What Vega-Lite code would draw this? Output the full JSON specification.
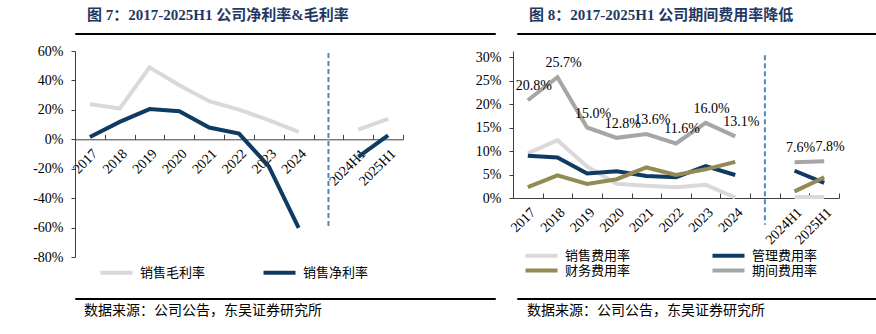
{
  "$schema": "https://vega.github.io/schema/vega-lite/v6.json",
  "padding": {"left": 13, "top": 7, "right": 0, "bottom": 0},
  "background": "white",
  "config": {
    "font": "Liberation Serif",
    "view": {"stroke": null},
    "axis": {"labelFont": "Liberation Serif", "labelFontSize": 14, "labelColor": "#000", "domainColor": "#404040", "tickColor": "#404040", "grid": false, "title": null, "labelOverlap": false},
    "legend": {"layout": {"bottom": {"anchor": "middle"}}, "padding": 0}
  },
  "datasets": {
    "margin": [
      {"cat": "2017", "series": "销售毛利率", "value": 0.239, "seg": "年度"},
      {"cat": "2018", "series": "销售毛利率", "value": 0.209, "seg": "年度"},
      {"cat": "2019", "series": "销售毛利率", "value": 0.489, "seg": "年度"},
      {"cat": "2020", "series": "销售毛利率", "value": 0.368, "seg": "年度"},
      {"cat": "2021", "series": "销售毛利率", "value": 0.259, "seg": "年度"},
      {"cat": "2022", "series": "销售毛利率", "value": 0.202, "seg": "年度"},
      {"cat": "2023", "series": "销售毛利率", "value": 0.130, "seg": "年度"},
      {"cat": "2024", "series": "销售毛利率", "value": 0.050, "seg": "年度"},
      {"cat": "2024H1", "series": "销售毛利率", "value": 0.066, "seg": "半年"},
      {"cat": "2025H1", "series": "销售毛利率", "value": 0.139, "seg": "半年"},
      {"cat": "2017", "series": "销售净利率", "value": 0.016, "seg": "年度"},
      {"cat": "2018", "series": "销售净利率", "value": 0.118, "seg": "年度"},
      {"cat": "2019", "series": "销售净利率", "value": 0.205, "seg": "年度"},
      {"cat": "2020", "series": "销售净利率", "value": 0.191, "seg": "年度"},
      {"cat": "2021", "series": "销售净利率", "value": 0.080, "seg": "年度"},
      {"cat": "2022", "series": "销售净利率", "value": 0.039, "seg": "年度"},
      {"cat": "2023", "series": "销售净利率", "value": -0.184, "seg": "年度"},
      {"cat": "2024", "series": "销售净利率", "value": -0.602, "seg": "年度"},
      {"cat": "2024H1", "series": "销售净利率", "value": -0.120, "seg": "半年"},
      {"cat": "2025H1", "series": "销售净利率", "value": 0.027, "seg": "半年"}
    ],
    "fee": [
      {"cat": "2017", "series": "销售费用率", "value": 0.095, "seg": "年度"},
      {"cat": "2018", "series": "销售费用率", "value": 0.123, "seg": "年度"},
      {"cat": "2019", "series": "销售费用率", "value": 0.067, "seg": "年度"},
      {"cat": "2020", "series": "销售费用率", "value": 0.030, "seg": "年度"},
      {"cat": "2021", "series": "销售费用率", "value": 0.026, "seg": "年度"},
      {"cat": "2022", "series": "销售费用率", "value": 0.023, "seg": "年度"},
      {"cat": "2023", "series": "销售费用率", "value": 0.028, "seg": "年度"},
      {"cat": "2024", "series": "销售费用率", "value": 0.001, "seg": "年度"},
      {"cat": "2024H1", "series": "销售费用率", "value": 0.002, "seg": "半年"},
      {"cat": "2025H1", "series": "销售费用率", "value": 0.002, "seg": "半年"},
      {"cat": "2017", "series": "管理费用率", "value": 0.090, "seg": "年度"},
      {"cat": "2018", "series": "管理费用率", "value": 0.086, "seg": "年度"},
      {"cat": "2019", "series": "管理费用率", "value": 0.052, "seg": "年度"},
      {"cat": "2020", "series": "管理费用率", "value": 0.057, "seg": "年度"},
      {"cat": "2021", "series": "管理费用率", "value": 0.047, "seg": "年度"},
      {"cat": "2022", "series": "管理费用率", "value": 0.044, "seg": "年度"},
      {"cat": "2023", "series": "管理费用率", "value": 0.068, "seg": "年度"},
      {"cat": "2024", "series": "管理费用率", "value": 0.049, "seg": "年度"},
      {"cat": "2024H1", "series": "管理费用率", "value": 0.058, "seg": "半年"},
      {"cat": "2025H1", "series": "管理费用率", "value": 0.032, "seg": "半年"},
      {"cat": "2017", "series": "财务费用率", "value": 0.023, "seg": "年度"},
      {"cat": "2018", "series": "财务费用率", "value": 0.048, "seg": "年度"},
      {"cat": "2019", "series": "财务费用率", "value": 0.030, "seg": "年度"},
      {"cat": "2020", "series": "财务费用率", "value": 0.040, "seg": "年度"},
      {"cat": "2021", "series": "财务费用率", "value": 0.065, "seg": "年度"},
      {"cat": "2022", "series": "财务费用率", "value": 0.049, "seg": "年度"},
      {"cat": "2023", "series": "财务费用率", "value": 0.061, "seg": "年度"},
      {"cat": "2024", "series": "财务费用率", "value": 0.077, "seg": "年度"},
      {"cat": "2024H1", "series": "财务费用率", "value": 0.014, "seg": "半年"},
      {"cat": "2025H1", "series": "财务费用率", "value": 0.044, "seg": "半年"},
      {"cat": "2017", "series": "期间费用率", "value": 0.208, "seg": "年度"},
      {"cat": "2018", "series": "期间费用率", "value": 0.257, "seg": "年度"},
      {"cat": "2019", "series": "期间费用率", "value": 0.150, "seg": "年度"},
      {"cat": "2020", "series": "期间费用率", "value": 0.128, "seg": "年度"},
      {"cat": "2021", "series": "期间费用率", "value": 0.136, "seg": "年度"},
      {"cat": "2022", "series": "期间费用率", "value": 0.116, "seg": "年度"},
      {"cat": "2023", "series": "期间费用率", "value": 0.160, "seg": "年度"},
      {"cat": "2024", "series": "期间费用率", "value": 0.131, "seg": "年度"},
      {"cat": "2024H1", "series": "期间费用率", "value": 0.076, "seg": "半年"},
      {"cat": "2025H1", "series": "期间费用率", "value": 0.078, "seg": "半年"}
    ]
  },
  "spacing": 7,
  "vconcat": [
    {
      "spacing": 20,
      "hconcat": [
        {
          "width": 420, "height": 1,
          "view": {"stroke": "#000", "strokeWidth": 1},
          "title": {"text": "图 7：2017-2025H1 公司净利率&毛利率", "anchor": "start", "frame": "group", "dx": 12, "offset": 8, "fontSize": 15, "fontWeight": "bold", "color": "#1f3864", "font": "Liberation Serif, Noto Sans CJK SC"},
          "data": {"values": [{"k": 1}]},
          "mark": {"type": "point", "opacity": 0},
          "encoding": {}
        },
        {
          "width": 420, "height": 1,
          "view": {"stroke": "#000", "strokeWidth": 1},
          "title": {"text": "图 8：2017-2025H1 公司期间费用率降低", "anchor": "start", "frame": "group", "dx": 12, "offset": 8, "fontSize": 15, "fontWeight": "bold", "color": "#1f3864", "font": "Liberation Serif, Noto Sans CJK SC"},
          "data": {"values": [{"k": 1}]},
          "mark": {"type": "point", "opacity": 0},
          "encoding": {}
        }
      ]
    },
    {
      "spacing": 50,
      "resolve": {"scale": {"color": "independent", "x": "independent", "y": "independent"}, "legend": {"color": "independent"}},
      "hconcat": [
        {
          "width": 328, "height": 206,
          "data": {"name": "margin"},
          "layer": [
            {
              "mark": {"type": "line", "strokeWidth": 4},
              "encoding": {
                "x": {"field": "cat", "type": "ordinal", "bandPosition": 0.5,
                  "scale": {"type": "band", "domain": ["2017", "2018", "2019", "2020", "2021", "2022", "2023", "2024", " ", "2024H1", "2025H1"], "paddingInner": 0, "paddingOuter": 0},
                  "axis": {"orient": "bottom", "offset": -117.7, "labelAngle": -45, "labelAlign": "right", "labelBaseline": "top", "tickBand": "extent", "tickSize": -5, "labelPadding": 12}},
                "y": {"field": "value", "type": "quantitative",
                  "scale": {"domain": [-0.8, 0.6], "nice": false, "zero": false},
                  "axis": {"values": [-0.8, -0.6, -0.4, -0.2, 0, 0.2, 0.4, 0.6], "tickCount": 20, "labelExpr": "round(datum.value*100) + '%'", "labelOverlap": false, "tickSize": 4, "labelPadding": 8, "minExtent": 62}},
                "color": {"field": "series", "type": "nominal",
                  "scale": {"domain": ["销售毛利率", "销售净利率"], "range": ["#d9d9d9", "#0f3b63"]},
                  "legend": {"orient": "bottom", "direction": "horizontal", "columns": 2, "title": null, "symbolType": "M-4,0H4", "symbolStrokeWidth": 4, "symbolSize": 64, "labelFont": "Noto Sans CJK SC", "labelFontSize": 13, "labelColor": "#000", "columnPadding": 49, "padding": 7, "offset": 2, "labelOffset": 17}},
                "detail": {"field": "seg"}
              }
            },
            {
              "data": {"values": [{"cat": " "}]},
              "mark": {"type": "rule", "strokeDash": [5, 3], "strokeWidth": 2, "color": "#4a89c8"},
              "encoding": {
                "x": {"field": "cat", "type": "ordinal", "bandPosition": 0.5},
                "y": {"datum": 0.586},
                "y2": {"datum": -0.596}
              }
            }
          ]
        },
        {
          "width": 326, "height": 147,
          "data": {"name": "fee"},
          "layer": [
            {
              "mark": {"type": "line", "strokeWidth": 4},
              "encoding": {
                "x": {"field": "cat", "type": "ordinal", "bandPosition": 0.5,
                  "scale": {"type": "band", "domain": ["2017", "2018", "2019", "2020", "2021", "2022", "2023", "2024", " ", "2024H1", "2025H1"], "paddingInner": 0, "paddingOuter": 0},
                  "axis": {"orient": "bottom", "labelAngle": -45, "labelAlign": "right", "labelBaseline": "top", "tickBand": "extent", "tickSize": -5, "labelPadding": 12}},
                "y": {"field": "value", "type": "quantitative",
                  "scale": {"domain": [0, 0.3128], "nice": false},
                  "axis": {"values": [0, 0.05, 0.1, 0.15, 0.2, 0.25, 0.3], "tickCount": 20, "labelExpr": "round(datum.value*100) + '%'", "labelOverlap": false, "tickSize": 4, "labelPadding": 8, "minExtent": 59}},
                "color": {"field": "series", "type": "nominal",
                  "scale": {"domain": ["销售费用率", "管理费用率", "财务费用率", "期间费用率"], "range": ["#d9d9d9", "#0f3b63", "#948a54", "#a6a6a6"]},
                  "legend": {"orient": "bottom", "direction": "horizontal", "columns": 2, "title": null, "symbolType": "M-4,0H4", "symbolStrokeWidth": 4, "symbolSize": 64, "labelFont": "Noto Sans CJK SC", "labelFontSize": 13, "labelColor": "#000", "columnPadding": 73, "rowPadding": -3, "offset": 2, "labelOffset": 17}},
                "detail": {"field": "seg"}
              }
            },
            {
              "transform": [{"filter": "datum.series === '期间费用率'"}],
              "mark": {"type": "text", "font": "Liberation Serif", "fontSize": 14, "dx": 6, "dy": -14, "color": "#000"},
              "encoding": {
                "x": {"field": "cat", "type": "ordinal", "bandPosition": 0.5},
                "y": {"field": "value", "type": "quantitative"},
                "text": {"field": "value", "type": "quantitative", "format": ".1%"}
              }
            },
            {
              "data": {"values": [{"cat": " "}]},
              "mark": {"type": "rule", "strokeDash": [5, 3], "strokeWidth": 2, "color": "#4a89c8"},
              "encoding": {
                "x": {"field": "cat", "type": "ordinal", "bandPosition": 0.5},
                "y": {"datum": 0.304},
                "y2": {"datum": -0.057}
              }
            }
          ]
        }
      ]
    },
    {
      "spacing": 20,
      "hconcat": [
        {
          "width": 420, "height": 1,
          "view": {"stroke": "#000", "strokeWidth": 1},
          "title": {"text": "数据来源：公司公告，东吴证券研究所", "orient": "bottom", "anchor": "start", "frame": "group", "dx": 9, "offset": 3, "fontSize": 14, "fontWeight": "normal", "color": "#000", "font": "Noto Sans CJK SC"},
          "data": {"values": [{"k": 1}]},
          "mark": {"type": "point", "opacity": 0},
          "encoding": {}
        },
        {
          "width": 420, "height": 1,
          "view": {"stroke": "#000", "strokeWidth": 1},
          "title": {"text": "数据来源：公司公告，东吴证券研究所", "orient": "bottom", "anchor": "start", "frame": "group", "dx": 10, "offset": 3, "fontSize": 14, "fontWeight": "normal", "color": "#000", "font": "Noto Sans CJK SC"},
          "data": {"values": [{"k": 1}]},
          "mark": {"type": "point", "opacity": 0},
          "encoding": {}
        }
      ]
    }
  ]
}
